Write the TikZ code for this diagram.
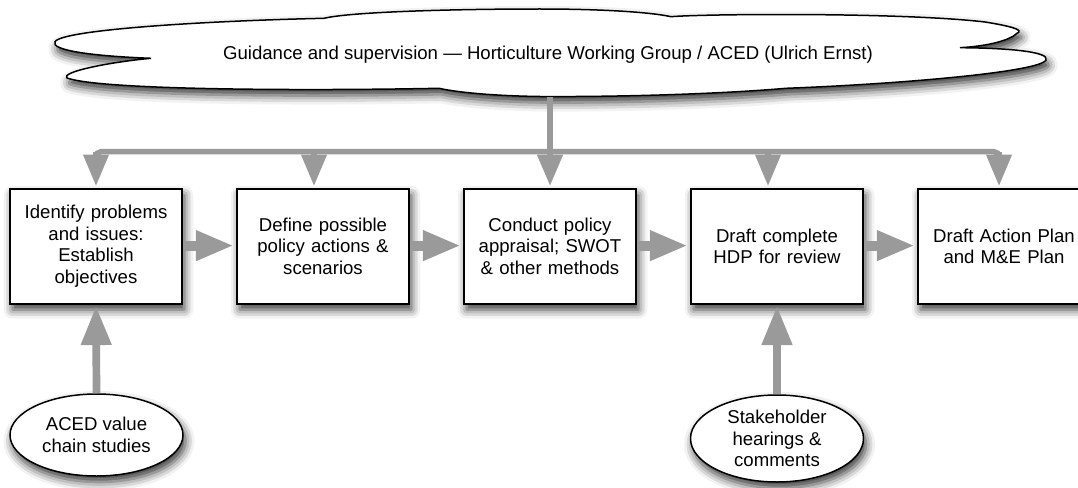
\documentclass[tikz,border=0pt]{standalone}
\usepackage{fontspec}
\setmainfont{Liberation Sans}
\usetikzlibrary{arrows.meta,shapes.geometric,shadows.blur}
\definecolor{arrowgray}{RGB}{154,154,154}
\tikzset{
  myshadow/.style={blur shadow={shadow xshift=2.5pt,shadow yshift=-6pt,shadow blur radius=9pt,shadow opacity=80}},
  stepbox/.style={draw=black,line width=2pt,fill=white,rectangle,minimum width=171.5pt,minimum height=114.5pt,text width=165pt,align=center,inner sep=0pt,myshadow},
  inputell/.style={draw=black,line width=1.5pt,fill=white,ellipse,minimum width=173pt,minimum height=83pt,inner sep=0pt,align=center,myshadow},
  busarrow/.style={draw=arrowgray,line width=5.5pt,-{Triangle[length=31.5pt,width=24.6pt]},shorten >=2pt},
  flowarrow/.style={draw=arrowgray,line width=10pt,-{Triangle[length=38pt,width=28pt]},shorten >=2.3pt},
  uparrow/.style={draw=arrowgray,line width=7.7pt,-{Triangle[length=39pt,width=29pt]},shorten >=1.5pt},
  every node/.style={font=\fontsize{18.6}{21.7}\selectfont}
}
\begin{document}
\begin{tikzpicture}[x=1pt,y=-1pt]
\useasboundingbox (0,0) rectangle (1078,487);
% cloud
\path[draw=black,line width=1.5pt,fill=white,myshadow]
  (151,58.3) .. controls (90,56) and (50,50) .. (55,41.7)
  .. controls (62,30) and (200,21) .. (324,18.3)
  .. controls (350,12) and (450,9) .. (540,9)
  .. controls (600,9) and (650,12) .. (671,16.7)
  .. controls (700,14) and (900,12) .. (985,22)
  .. controls (1010,26) and (1025,30) .. (1017,33.3)
  .. controls (1010,40) and (990,46) .. (960,47.7)
  .. controls (1010,48) and (1050,52) .. (1046,60)
  .. controls (1040,72) and (900,84) .. (786,88.3)
  .. controls (720,94) and (620,97) .. (540,96.5)
  .. controls (500,96) and (460,93) .. (439,88.3)
  .. controls (300,91) and (100,90) .. (67,78)
  .. controls (60,72) and (110,62) .. (151,58.3) -- cycle;
\node (cloud) at (548,55) {Guidance and supervision — Horticulture Working Group / ACED (Ulrich Ernst)};
\coordinate (stemtop) at (550,96.5);
% boxes
\node[stepbox] (box1) at (96,246.3) {Identify problems\\and issues:\\Establish\\objectives};
\node[stepbox] (box2) at (323,246.3) {Define possible\\policy actions \&\\scenarios};
\node[stepbox] (box3) at (550,246.3) {Conduct policy\\appraisal; SWOT\\\& other methods};
\node[stepbox] (box4) at (777,246.3) {Draft complete\\HDP for review};
\node[stepbox] (box5) at (1004,246.3) {Draft Action Plan\\and M\&E Plan};
% ellipses
\node[inputell,minimum height=82pt] (ell1) at (96.5,435) {ACED value\\chain studies};
\node[inputell,minimum height=87pt] (ell2) at (777,438.5) {Stakeholder\\hearings \&\\comments};
% bus
\coordinate (b1) at (96,151.7);
\coordinate (b2) at (314,151.7);
\coordinate (b4) at (768,151.7);
\coordinate (b5) at (999,151.7);
\draw[arrowgray,line width=5.5pt,rounded corners=5pt] ([yshift=-8pt]b1) -- (b1) -- (b5) -- ([yshift=-8pt]b5);
\draw[busarrow] (b1) -- (b1 |- box1.north);
\draw[busarrow] (b2) -- (b2 |- box2.north);
\draw[busarrow,line width=6pt] (stemtop) -- (box3.north);
\draw[busarrow] (b4) -- (b4 |- box4.north);
\draw[busarrow] (b5) -- (b5 |- box5.north);
% flow
\draw[flowarrow] ([yshift=0.7pt]box1.east) -- ([yshift=0.7pt]box2.west);
\draw[flowarrow] ([yshift=0.7pt]box2.east) -- ([yshift=0.7pt]box3.west);
\draw[flowarrow] ([yshift=0.7pt]box3.east) -- ([yshift=0.7pt]box4.west);
\draw[flowarrow] ([yshift=0.7pt]box4.east) -- ([yshift=0.7pt]box5.west);
% inputs
\draw[uparrow] (ell1.north) -- (box1.south);
\draw[uparrow] (ell2.north) -- (box4.south);
\end{tikzpicture}
\end{document}
